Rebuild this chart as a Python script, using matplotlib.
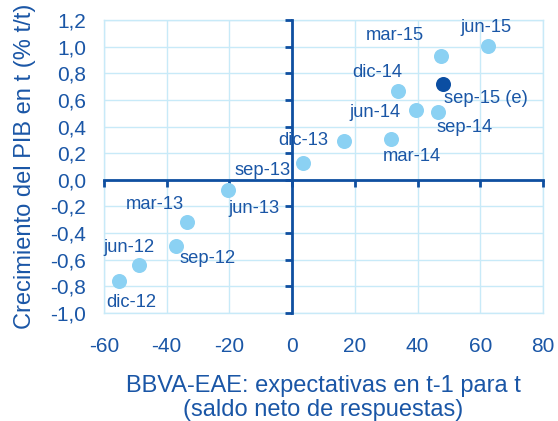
import matplotlib.pyplot as plt
import numpy as np

# BBVA-EAE expectativas (x) vs crecimiento PIB (y)
labels = ['dic-12', 'jun-12', 'sep-12', 'mar-13', 'jun-13', 'sep-13', 'dic-13',
          'mar-14', 'jun-14', 'sep-14', 'dic-14', 'mar-15', 'jun-15']
x_vals = [-55.2, -48.8, -37.0, -33.5, -20.4, 3.6, 16.4,
          31.6, 39.6, 46.6, 33.7, 47.5, 62.6]
y_vals = [-0.76, -0.64, -0.50, -0.32, -0.08, 0.125, 0.29,
          0.31, 0.525, 0.51, 0.67, 0.93, 1.005]

est_label = 'sep-15 (e)'
est_x = 48.0
est_y = 0.72

x_ticks = [-60, -40, -20, 0, 20, 40, 60, 80]
y_ticks = [-1.0, -0.8, -0.6, -0.4, -0.2, 0.0, 0.2, 0.4, 0.6, 0.8, 1.0, 1.2]

# label offsets in points (style only)
offsets = {
    'dic-12': (8.6, -15.8), 'jun-12': (-7.2, 13), 'sep-12': (23, -8.6),
    'mar-13': (-23, 13), 'jun-13': (18.7, -13), 'sep-13': (-29.5, -5),
    'dic-13': (-28.8, 0.7), 'mar-14': (15, -13), 'jun-14': (-30, -2),
    'sep-14': (18.7, -11.5), 'dic-14': (-15, 13), 'mar-15': (-33, 15),
    'jun-15': (-2, 13), 'sep-15 (e)': (31, -10.8),
}

text_c = '#1A56A6'
axis_c = '#0F4FA0'
grid_c = '#C8EAF8'
light = '#8BD1F3'
dark = '#0B4EA2'

plt.rcParams['font.family'] = ['Liberation Sans', 'DejaVu Sans']

fig = plt.figure(figsize=(5.58, 4.21), dpi=100)
rect = [0.1864, 0.2565, 0.7866, 0.6960]
ax = fig.add_axes(rect)
ax.set_xlim(-60, 80)
ax.set_ylim(-1.0, 1.2)
ax.set_xticks(x_ticks)
ax.set_yticks(y_ticks)
ax.set_xticklabels([str(v) for v in x_ticks])
ax.set_yticklabels([f'{v:.1f}'.replace('.', ',') for v in y_ticks])
ax.tick_params(length=0, labelsize=15, colors=text_c)
ax.tick_params(axis='y', pad=13)
ax.tick_params(axis='x', pad=17)
ax.grid(True, color=grid_c, lw=1)
for s in ax.spines.values():
    s.set_color(grid_c)
    s.set_linewidth(1)
ax.set_axisbelow(True)

# axes crossing at zero, with tick marks
ax0 = fig.add_axes(rect, frameon=True, sharex=ax, sharey=ax)
ax0.patch.set_visible(False)
ax0.spines['left'].set_position(('data', 0))
ax0.spines['bottom'].set_position(('data', 0))
ax0.spines['right'].set_visible(False)
ax0.spines['top'].set_visible(False)
for s in ['left', 'bottom']:
    ax0.spines[s].set_color(axis_c)
    ax0.spines[s].set_linewidth(2)
ax0.tick_params(direction='out', length=5, width=2, color=axis_c,
                labelleft=False, labelbottom=False)
ax0.set_zorder(ax.get_zorder() + 1)

ax0.scatter(x_vals, y_vals, s=117, color=light, zorder=3, linewidths=0)
ax0.scatter([est_x], [est_y], s=117, color=dark, zorder=3, linewidths=0)

for lab, xv, yv in zip(labels + [est_label], x_vals + [est_x], y_vals + [est_y]):
    ax0.annotate(lab, (xv, yv), xytext=offsets[lab], textcoords='offset points',
                 ha='center', va='center', fontsize=13.2, color=text_c)

ax.set_ylabel('Crecimiento del PIB en t (% t/t)', fontsize=17, color=text_c, labelpad=10)
ax.set_xlabel('BBVA-EAE: expectativas en t-1 para t\n(saldo neto de respuestas)',
              fontsize=17, color=text_c, labelpad=14, linespacing=1.1)

fig.savefig('out.png', dpi=100)
